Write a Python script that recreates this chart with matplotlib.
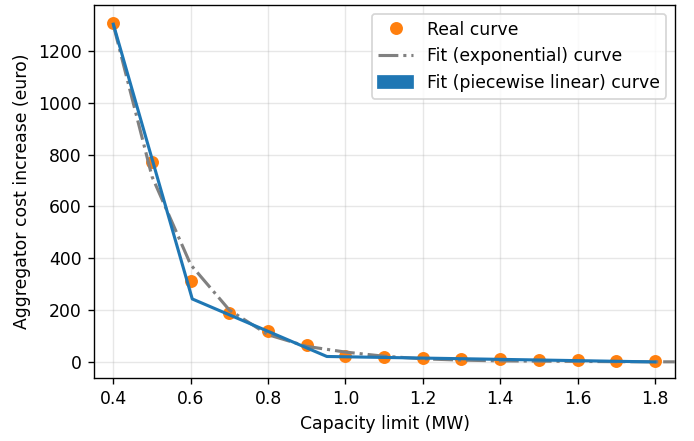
import matplotlib
matplotlib.use('Agg')
import matplotlib.pyplot as plt
import matplotlib.patches as mpatches
import numpy as np

# capacity limits (MW) and measured cost increase (euro)
cap = [0.4, 0.5, 0.6, 0.7, 0.8, 0.9, 1.0, 1.1, 1.2, 1.3, 1.4, 1.5, 1.6, 1.7, 1.8]
real_cost = [1308, 772, 312, 189, 118, 64, 23, 19, 15, 13, 11, 9, 6, 3, 2]

# exponential fit evaluated on a grid
exp_x = [0.4, 0.5, 0.6, 0.7, 0.8, 0.9, 1.0, 1.1, 1.2, 1.3, 1.4, 1.5, 1.6, 1.7, 1.8, 1.9]
exp_cost = [1300, 715, 375, 200, 105, 60, 38, 22, 12, 7, 4, 3, 2, 1, 0.5, 0.3]

# piecewise linear fit breakpoints
pw_x = [0.4, 0.604, 0.952, 1.8]
pw_cost = [1303, 243, 21, 0]

DPI = 124
fig = plt.figure(figsize=(694/DPI, 441/DPI), dpi=DPI)
ax = fig.add_axes([94/694, 63/441, 581/694, 373/441])

ax.plot(cap, real_cost, 'o', color='#ff7f0e', ms=6.5, zorder=2)
ax.plot(exp_x, exp_cost, '-.', color='gray', lw=1.8, zorder=3)
ax.plot(pw_x, pw_cost, '-', color='#1f77b4', lw=1.8, zorder=4)

ax.set_xlim(0.35, 1.852)
ax.set_ylim(-62, 1377)
ax.grid(True, alpha=0.3)
ax.set_xlabel('Capacity limit (MW)')
ax.set_ylabel('Aggregator cost increase (euro)')

handles = [
    plt.Line2D([], [], marker='o', ls='', color='#ff7f0e', ms=6.5),
    plt.Line2D([], [], ls='-.', color='gray', lw=1.8),
    mpatches.Patch(color='#1f77b4'),
]
labels = ['Real curve', 'Fit (exponential) curve', 'Fit (piecewise linear) curve']
ax.legend(handles, labels, loc='upper right')

fig.savefig('out.png', dpi=DPI)
